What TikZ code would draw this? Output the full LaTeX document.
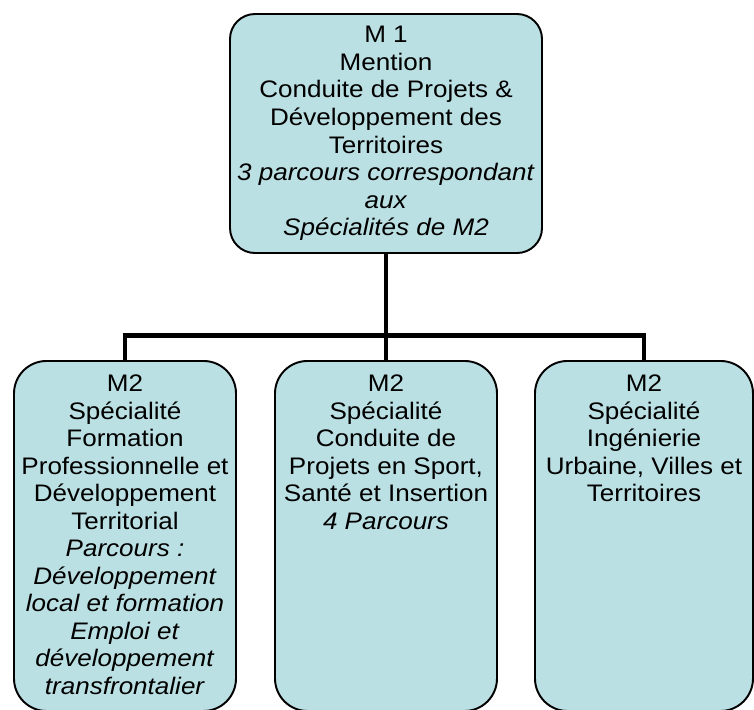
\documentclass[tikz,border=0pt]{standalone}
\usepackage{fontspec}
\setmainfont{Liberation Sans}[FakeStretch=1.09]
\definecolor{boxfill}{RGB}{187,224,227}
\begin{document}
\begin{tikzpicture}[scale=0.2]
    \tikzstyle{every node}+=[inner sep=0pt]
    \tikzstyle{mention}=[draw=black, line width=1.1pt, fill=boxfill, rounded corners=0.5cm, minimum width=6.24cm, minimum height=4.78cm, align=center, font=\fontsize{13.6}{15.65}\selectfont]
    \tikzstyle{spec}=[draw=black, line width=1.1pt, fill=boxfill, rounded corners=0.65cm, minimum height=7cm, inner ysep=0.23cm, text depth=6.155cm, anchor=north, font=\fontsize{13.6}{15.65}\selectfont]
    \tikzstyle{link}=[black, line width=2.8pt]
    \useasboundingbox (0,0) rectangle (75.4,-70.9);
    \node [mention] (m1) at (38.6,-13.35) {M 1\\Mention\\Conduite de Projets \&\\D\'eveloppement des\\Territoires\\\textit{3 parcours correspondant}\\\textit{aux}\\\textit{Sp\'ecialit\'es de M2}};
    \node [spec, minimum width=4.44cm] (m2a) at (12.5,-36) {\begin{tabular}[t]{@{}c@{}}M2\\Sp\'ecialit\'e\\Formation\\Professionnelle et\\D\'eveloppement\\Territorial\\\textit{Parcours :}\\\textit{D\'eveloppement}\\\textit{local et formation}\\\textit{Emploi et}\\\textit{d\'eveloppement}\\\textit{transfrontalier}\end{tabular}};
    \node [spec, minimum width=4.44cm] (m2b) at (38.6,-36) {\begin{tabular}[t]{@{}c@{}}M2\\Sp\'ecialit\'e\\Conduite de\\Projets en Sport,\\Sant\'e et Insertion\\\textit{4 Parcours}\end{tabular}};
    \node [spec, minimum width=4.36cm] (m2c) at (64.4,-36) {\begin{tabular}[t]{@{}c@{}}M2\\Sp\'ecialit\'e\\Ing\'enierie\\Urbaine, Villes et\\Territoires\end{tabular}};
    \coordinate (fork) at (38.6,-33.55);
    \draw [link] (m1.south) -- (fork);
    \draw [link] (m2a.north) |- (fork) -| (m2c.north);
    \draw [link] (fork) -- (m2b.north);
\end{tikzpicture}
\end{document}
